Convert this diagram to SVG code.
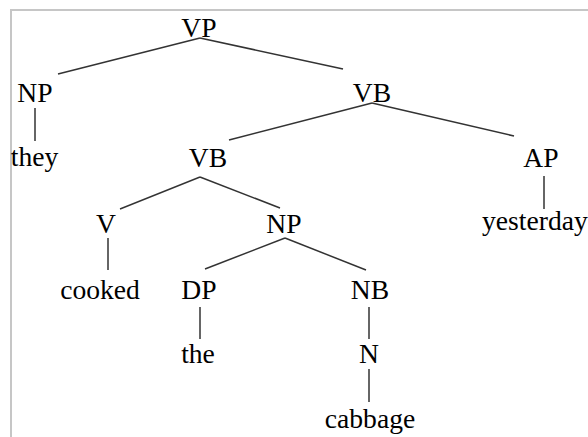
<svg xmlns="http://www.w3.org/2000/svg" width="588" height="437" viewBox="0 0 588 437">
<style>
text{font-family:"Liberation Serif","Times New Roman",serif;font-size:27.6px;fill:#000;text-anchor:middle}
.e{stroke:#333;stroke-width:1.5;fill:none}
</style>
<rect width="588" height="437" fill="#fff"/>
<rect x="11" y="10" width="600" height="500" fill="none" stroke="#c6c6c6" stroke-width="2"/>
<g id="connectors">
<line class="e" x1="200" y1="38" x2="58" y2="74"/>
<line class="e" x1="200" y1="38" x2="343" y2="69"/>
<line class="e" x1="35" y1="108" x2="35" y2="141"/>
<line class="e" x1="372" y1="103" x2="229" y2="140"/>
<line class="e" x1="372" y1="103" x2="514" y2="136"/>
<line class="e" x1="544" y1="176" x2="544" y2="209"/>
<line class="e" x1="200" y1="177" x2="120" y2="209"/>
<line class="e" x1="200" y1="177" x2="280" y2="208"/>
<line class="e" x1="108" y1="238" x2="108" y2="270"/>
<line class="e" x1="285" y1="238" x2="205" y2="269"/>
<line class="e" x1="285" y1="238" x2="366" y2="270"/>
<line class="e" x1="200" y1="307" x2="200" y2="339"/>
<line class="e" x1="369" y1="307" x2="369" y2="339"/>
<line class="e" x1="369" y1="369" x2="369" y2="402"/>
</g>
<g id="n-vp"><text x="199" y="37">VP</text></g>
<g id="n-np1"><text x="35" y="102">NP</text></g>
<g id="n-they"><text x="34.5" y="166">they</text></g>
<g id="n-vb1"><text x="372" y="102">VB</text></g>
<g id="n-vb2"><text x="208" y="167">VB</text></g>
<g id="n-ap"><text x="541" y="167">AP</text></g>
<g id="n-yesterday"><text x="482" y="230" style="text-anchor:start">yesterday</text></g>
<g id="n-v"><text x="106" y="233">V</text></g>
<g id="n-np2"><text x="284" y="233">NP</text></g>
<g id="n-cooked"><text x="100" y="299">cooked</text></g>
<g id="n-dp"><text x="199" y="299">DP</text></g>
<g id="n-nb"><text x="370" y="299">NB</text></g>
<g id="n-the"><text x="198" y="363">the</text></g>
<g id="n-n"><text x="369" y="363">N</text></g>
<g id="n-cabbage"><text x="370" y="428">cabbage</text></g>
</svg>
